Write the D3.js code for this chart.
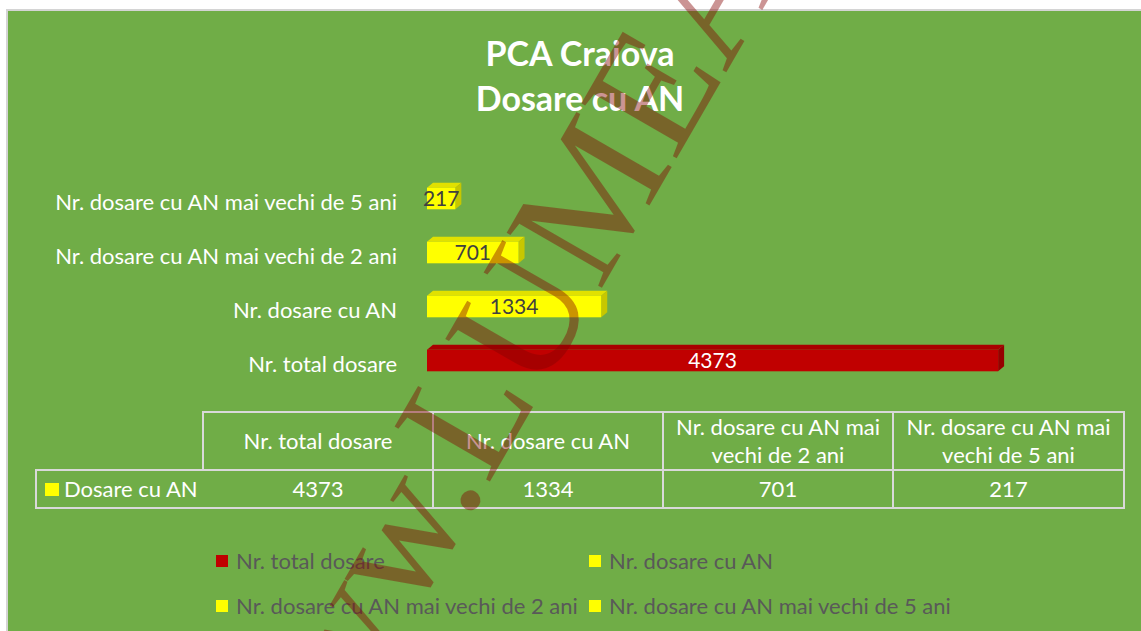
<!DOCTYPE html>
<html>
<head>
<meta charset="utf-8">
<script src="https://cdn.jsdelivr.net/npm/d3@7"></script>
<style>
  html, body { margin: 0; padding: 0; background: #fff; }
  svg { display: block; }
</style>
</head>
<body>
<div class="chart"></div>
<script>
const categories = ["Nr. total dosare", "Nr. dosare cu AN", "Nr. dosare cu AN mai vechi de 2 ani", "Nr. dosare cu AN mai vechi de 5 ani"];
const values = [4373, 1334, 701, 217];
const barColors = ["#C00000", "#FFFF00", "#FFFF00", "#FFFF00"];
const seriesName = "Dosare cu AN";
const titleLines = ["PCA Craiova", "Dosare cu AN"];
const headerLines = [["Nr. total dosare"], ["Nr. dosare cu AN"], ["Nr. dosare cu AN mai", "vechi de 2 ani"], ["Nr. dosare cu AN mai", "vechi de 5 ani"]];
const watermark = "www.LUMEA";

const W = 1141, H = 631;
const font = "Lato, 'Noto Sans', sans-serif";

const svg = d3.select(".chart").append("svg")
    .attr("width", W)
    .attr("height", H);

// chart area
svg.append("rect")
    .attr("x", 7).attr("y", 10)
    .attr("width", W).attr("height", H)
    .attr("fill", "#70AD47")
    .attr("stroke", "#d4d4d4")
    .attr("stroke-width", 2);

// title
svg.append("g").selectAll("text")
    .data(titleLines)
    .join("text")
    .attr("x", 580)
    .attr("y", (d, i) => 66 + i * 45)
    .attr("text-anchor", "middle")
    .attr("fill", "#fff")
    .style("font-family", font)
    .style("font-weight", "bold")
    .style("font-size", "34px")
    .text(d => d);

// scales
const x = d3.scaleLinear()
    .domain([0, 5000])
    .range([427, 1080]);

const y = d3.scaleBand()
    .domain(categories.slice().reverse())
    .range([171.5, 387.5])
    .paddingInner(0.6)
    .paddingOuter(0.3);

const dx = 6, dy = 5;
const data = categories.map((c, i) => ({ cat: c, value: values[i], color: barColors[i] }));

const bars = svg.append("g").selectAll("g")
    .data(data)
    .join("g");

// top face
bars.append("path")
    .attr("d", d => {
        const x0 = x(0), x1 = x(d.value), y0 = y(d.cat);
        return `M${x0},${y0}L${x0 + dx},${y0 - dy}L${x1 + dx},${y0 - dy}L${x1},${y0}Z`;
    })
    .attr("fill", d => d3.color(d.color).darker(0.35));

// side face
bars.append("path")
    .attr("d", d => {
        const x1 = x(d.value), y0 = y(d.cat), h = y.bandwidth();
        return `M${x1},${y0}L${x1 + dx},${y0 - dy}L${x1 + dx},${y0 + h - dy}L${x1},${y0 + h}Z`;
    })
    .attr("fill", d => d3.color(d.color).darker(0.7));

// front face
bars.append("rect")
    .attr("x", x(0))
    .attr("y", d => y(d.cat))
    .attr("width", d => x(d.value) - x(0))
    .attr("height", y.bandwidth())
    .attr("fill", d => d.color);

// value labels
bars.append("text")
    .attr("x", d => (x(0) + x(d.value)) / 2)
    .attr("y", d => y(d.cat) + y.bandwidth() / 2)
    .attr("dy", "0.36em")
    .attr("text-anchor", "middle")
    .attr("fill", d => d.color === "#C00000" ? "#fff" : "#404040")
    .style("font-family", font)
    .style("font-size", "21px")
    .text(d => d.value);

// category labels
svg.append("g").selectAll("text")
    .data(data)
    .join("text")
    .attr("x", 397)
    .attr("y", d => y(d.cat) + y.bandwidth() / 2 + 4)
    .attr("dy", "0.36em")
    .attr("text-anchor", "end")
    .attr("fill", "#fff")
    .style("font-family", font)
    .style("font-size", "22px")
    .text(d => d.cat);

// data table
const colX = [203, 433, 663, 893, 1124];
const tTop = 412, tMid = 470, tBot = 508, tLeft = 36;
const table = svg.append("g")
    .attr("stroke", "#d9d9d9")
    .attr("stroke-width", 2)
    .attr("fill", "none");

table.append("rect")
    .attr("x", colX[0]).attr("y", tTop)
    .attr("width", colX[4] - colX[0]).attr("height", tMid - tTop);
table.append("rect")
    .attr("x", tLeft).attr("y", tMid)
    .attr("width", colX[4] - tLeft).attr("height", tBot - tMid);
table.selectAll("line")
    .data(colX.slice(1, 4))
    .join("line")
    .attr("x1", d => d).attr("x2", d => d)
    .attr("y1", tTop).attr("y2", tBot);

const headers = svg.append("g").selectAll("text")
    .data(headerLines)
    .join("text")
    .attr("text-anchor", "middle")
    .attr("fill", "#fff")
    .style("font-family", font)
    .style("font-size", "22px");

headers.selectAll("tspan")
    .data((d, i) => d.map((line, j) => ({ line, j, n: d.length, i })))
    .join("tspan")
    .attr("x", d => (colX[d.i] + colX[d.i + 1]) / 2)
    .attr("y", d => (tTop + tMid) / 2 + (d.j - (d.n - 1) / 2) * 28)
    .attr("dy", "0.36em")
    .text(d => d.line);

svg.append("g").selectAll("text")
    .data(values)
    .join("text")
    .attr("x", (d, i) => (colX[i] + colX[i + 1]) / 2)
    .attr("y", (tMid + tBot) / 2)
    .attr("dy", "0.36em")
    .attr("text-anchor", "middle")
    .attr("fill", "#fff")
    .style("font-family", font)
    .style("font-size", "22px")
    .text(d => d);

svg.append("rect")
    .attr("x", 45).attr("y", 483)
    .attr("width", 14).attr("height", 13)
    .attr("fill", "#FFFF00");
svg.append("text")
    .attr("x", 64)
    .attr("y", (tMid + tBot) / 2)
    .attr("dy", "0.36em")
    .attr("fill", "#fff")
    .style("font-family", font)
    .style("font-size", "22px")
    .text(seriesName);

// legend
const legendPos = [[216, 561], [589, 561], [216, 606], [589, 606]];
const legend = svg.append("g").selectAll("g")
    .data(data)
    .join("g")
    .attr("transform", (d, i) => `translate(${legendPos[i][0]},${legendPos[i][1]})`);
legend.append("rect")
    .attr("x", 0).attr("y", -6)
    .attr("width", 12).attr("height", 12)
    .attr("fill", d => d.color);
legend.append("text")
    .attr("x", 20)
    .attr("dy", "0.36em")
    .attr("fill", "#595959")
    .style("font-family", font)
    .style("font-size", "22px")
    .text(d => d.cat);

// watermark
svg.append("text")
    .attr("transform", "translate(290,828) rotate(-60)")
    .attr("fill", "rgba(130,0,0,0.42)")
    .style("font-family", "'Liberation Serif', 'DejaVu Serif', serif")
    .style("font-size", "168px")
    .text(watermark);
</script>
</body>
</html>
